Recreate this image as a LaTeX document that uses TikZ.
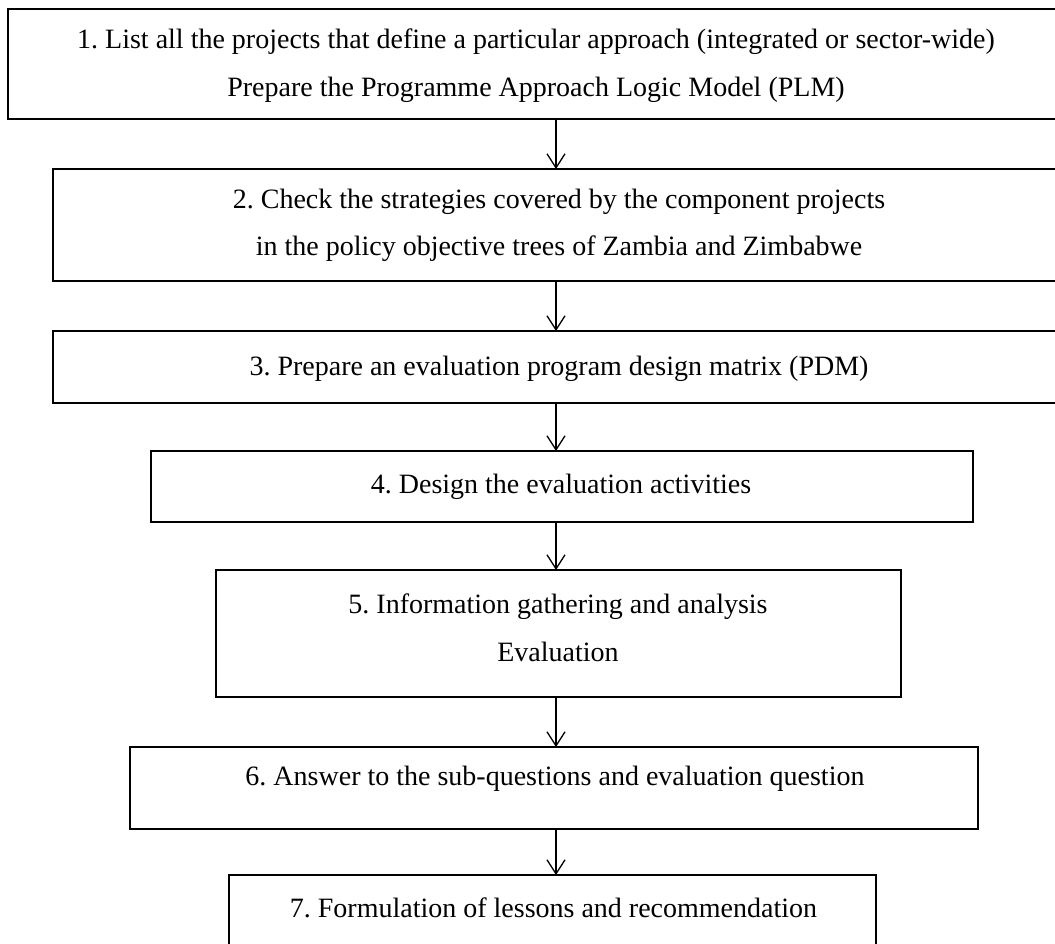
\documentclass[tikz,border=0pt]{standalone}
\usepackage{fontspec}
\setmainfont{Liberation Serif}
\usetikzlibrary{arrows.meta}
\frenchspacing
\begin{document}
\begin{tikzpicture}[x=1pt,y=-1pt,
  box/.style={draw=black,line width=1.7pt,rectangle,inner sep=0pt,outer sep=0pt},
  txt/.style={anchor=base,inner sep=0pt,font=\fontsize{28}{34}\selectfont},
  arr/.style={line width=1.3pt,-{Straight Barb[length=14pt,width=18pt,line width=1.3pt]}}]
\useasboundingbox (0,0) rectangle (1055,944);
\clip (0,0) rectangle (1055,944);
\fill[white] (0,0) rectangle (1055,944);
% boxes
\node[box,minimum width=1062pt,minimum height=110pt] (b1) at (539,64) {};
\node[box,minimum width=1017pt,minimum height=112pt] (b2) at (561.5,225) {};
\node[box,minimum width=1017pt,minimum height=72pt] (b3) at (561.5,367) {};
\node[box,minimum width=822pt,minimum height=71pt] (b4) at (562,486.5) {};
\node[box,minimum width=685pt,minimum height=127pt] (b5) at (558.5,633.5) {};
\node[box,minimum width=848pt,minimum height=82pt] (b6) at (554,788) {};
\node[box,minimum width=647pt,minimum height=85pt] (b7) at (552.5,917.5) {};
% texts
\node[txt] (t1a) at (536,49) {1. List all the projects that define a particular approach (integrated or sector-wide)};
\node[txt] (t1b) at (536,97) {Prepare the Programme Approach Logic Model (PLM)};
\node[txt] (t2a) at (559,209) {2. Check the strategies covered by the component projects};
\node[txt] (t2b) at (559,255) {in the policy objective trees of Zambia and Zimbabwe};
\node[txt] (t3) at (559,375) {3. Prepare an evaluation program design matrix (PDM)};
\node[txt] (t4) at (561,493) {4. Design the evaluation activities};
\node[txt] (t5a) at (558,613) {5. Information gathering and analysis};
\node[txt] (t5b) at (558,661) {Evaluation};
\node[txt] (t6) at (555,785) {6. Answer to the sub-questions and evaluation question};
\node[txt] (t7) at (553.5,917) {7. Formulation of lessons and recommendation};
% arrows
\coordinate (ax) at (556,0);
\draw[arr] (b1.south -| ax) -- (b2.north -| ax);
\draw[arr] (b2.south -| ax) -- (b3.north -| ax);
\draw[arr] (b3.south -| ax) -- (b4.north -| ax);
\draw[arr] (b4.south -| ax) -- (b5.north -| ax);
\draw[arr] (b5.south -| ax) -- (b6.north -| ax);
\draw[arr] (b6.south -| ax) -- (b7.north -| ax);
\end{tikzpicture}
\end{document}
